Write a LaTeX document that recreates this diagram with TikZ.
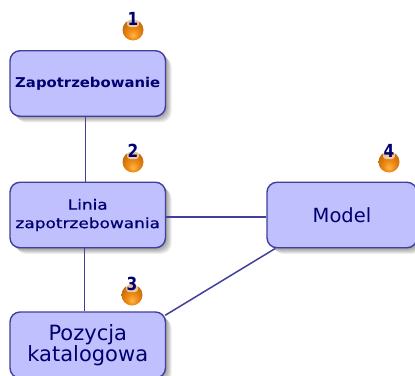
\documentclass[tikz,border=0pt]{standalone}
\usepackage{fontspec}
\setmainfont{DejaVu Sans}
\newfontfamily\zfont[FakeStretch=1.1]{DejaVu Sans Bold}
\newfontfamily\lfont[FakeStretch=1.21,FakeBold=0.6]{DejaVu Sans}
\newfontfamily\dfont[FakeStretch=0.85]{DejaVu Sans Bold}
\definecolor{boxfill}{HTML}{C0C0FF}
\definecolor{boxline}{HTML}{40409C}
\definecolor{ink}{HTML}{000070}
\definecolor{orbA}{HTML}{FFB848}
\definecolor{orbB}{HTML}{F08C18}
\definecolor{orbC}{HTML}{C86C08}
\definecolor{orbD}{HTML}{6E4420}
\pgfdeclareradialshading{orb}{\pgfpoint{0bp}{-14bp}}{
  color(0bp)=(orbA);
  color(12bp)=(orbB);
  color(28bp)=(orbC);
  color(42bp)=(orbD);
  color(50bp)=(orbD)}
\tikzset{
  shade layer/.style={fill=black,fill opacity=.07,draw=none,transform canvas={shift={(#1,-#1)}}},
  box/.style={
    preaction={shade layer=1pt},
    preaction={shade layer=2pt},
    preaction={shade layer=3pt},
    preaction={shade layer=4pt},
    preaction={shade layer=5pt},
    preaction={shade layer=6pt},
    draw=boxline,line width=1.4pt,fill=boxfill,rounded corners=10pt,
    text=ink,align=center,inner sep=0pt,minimum width=155.5pt,minimum height=65.5pt},
  link/.style={draw=boxline,line width=1.5pt},
  ball/.style={circle,shading=orb,minimum size=21pt,inner sep=0pt},
  halo/.style={rectangle,rounded corners=3pt,fill=white,fill opacity=.6,minimum width=12pt,minimum height=16pt,inner sep=0pt},
  digit/.style={font=\fontsize{18}{18}\dfont,text=ink,inner sep=0pt}
}
\begin{document}
\begin{tikzpicture}[x=1pt,y=-1pt]
\useasboundingbox (0,0) rectangle (415,375);
\clip (0,0) rectangle (415,375);
\fill[white] (0,0) rectangle (415,375);

\node[box,font=\fontsize{13.5}{16}\zfont] (z) at (87.75,83.5) {Zapotrzebowanie};
\node[box,font=\fontsize{14}{18.5}\lfont] (l) at (87.75,215) {Linia\\[0pt]zapotrzebowania};
\node[box,font=\fontsize{21}{20.5}\selectfont,minimum height=66pt] (p) at (87.75,345) {Pozycja\\katalogowa};
\node[box,font=\fontsize{19.5}{22}\selectfont,minimum width=150pt,minimum height=65.5pt] (m) at (342,215) {Model};

\draw[link] ([xshift=-2.5pt]z.south) -- ([xshift=-2.5pt]l.north);
\draw[link] ([xshift=-3.5pt]l.south) -- ([xshift=-3.5pt]p.north);
\draw[link] ([yshift=-2pt]l.east) -- ([yshift=-2pt]m.west);
\draw[link] ([xshift=-1pt,yshift=-4pt]p.north east) -- ([xshift=9pt]m.south west);

\foreach \n/\x/\y/\t in {a/133/30/1,b/133/162/2,c/132/295/3,d/389/162/4}{
  \node[ball] (ball\n) at (\x,\y) {};
  \node[halo] (halo\n) at (\x,\y-11) {};
  \node[digit] (digit\n) at (\x,\y-11) {\t};
}
\end{tikzpicture}
\end{document}
